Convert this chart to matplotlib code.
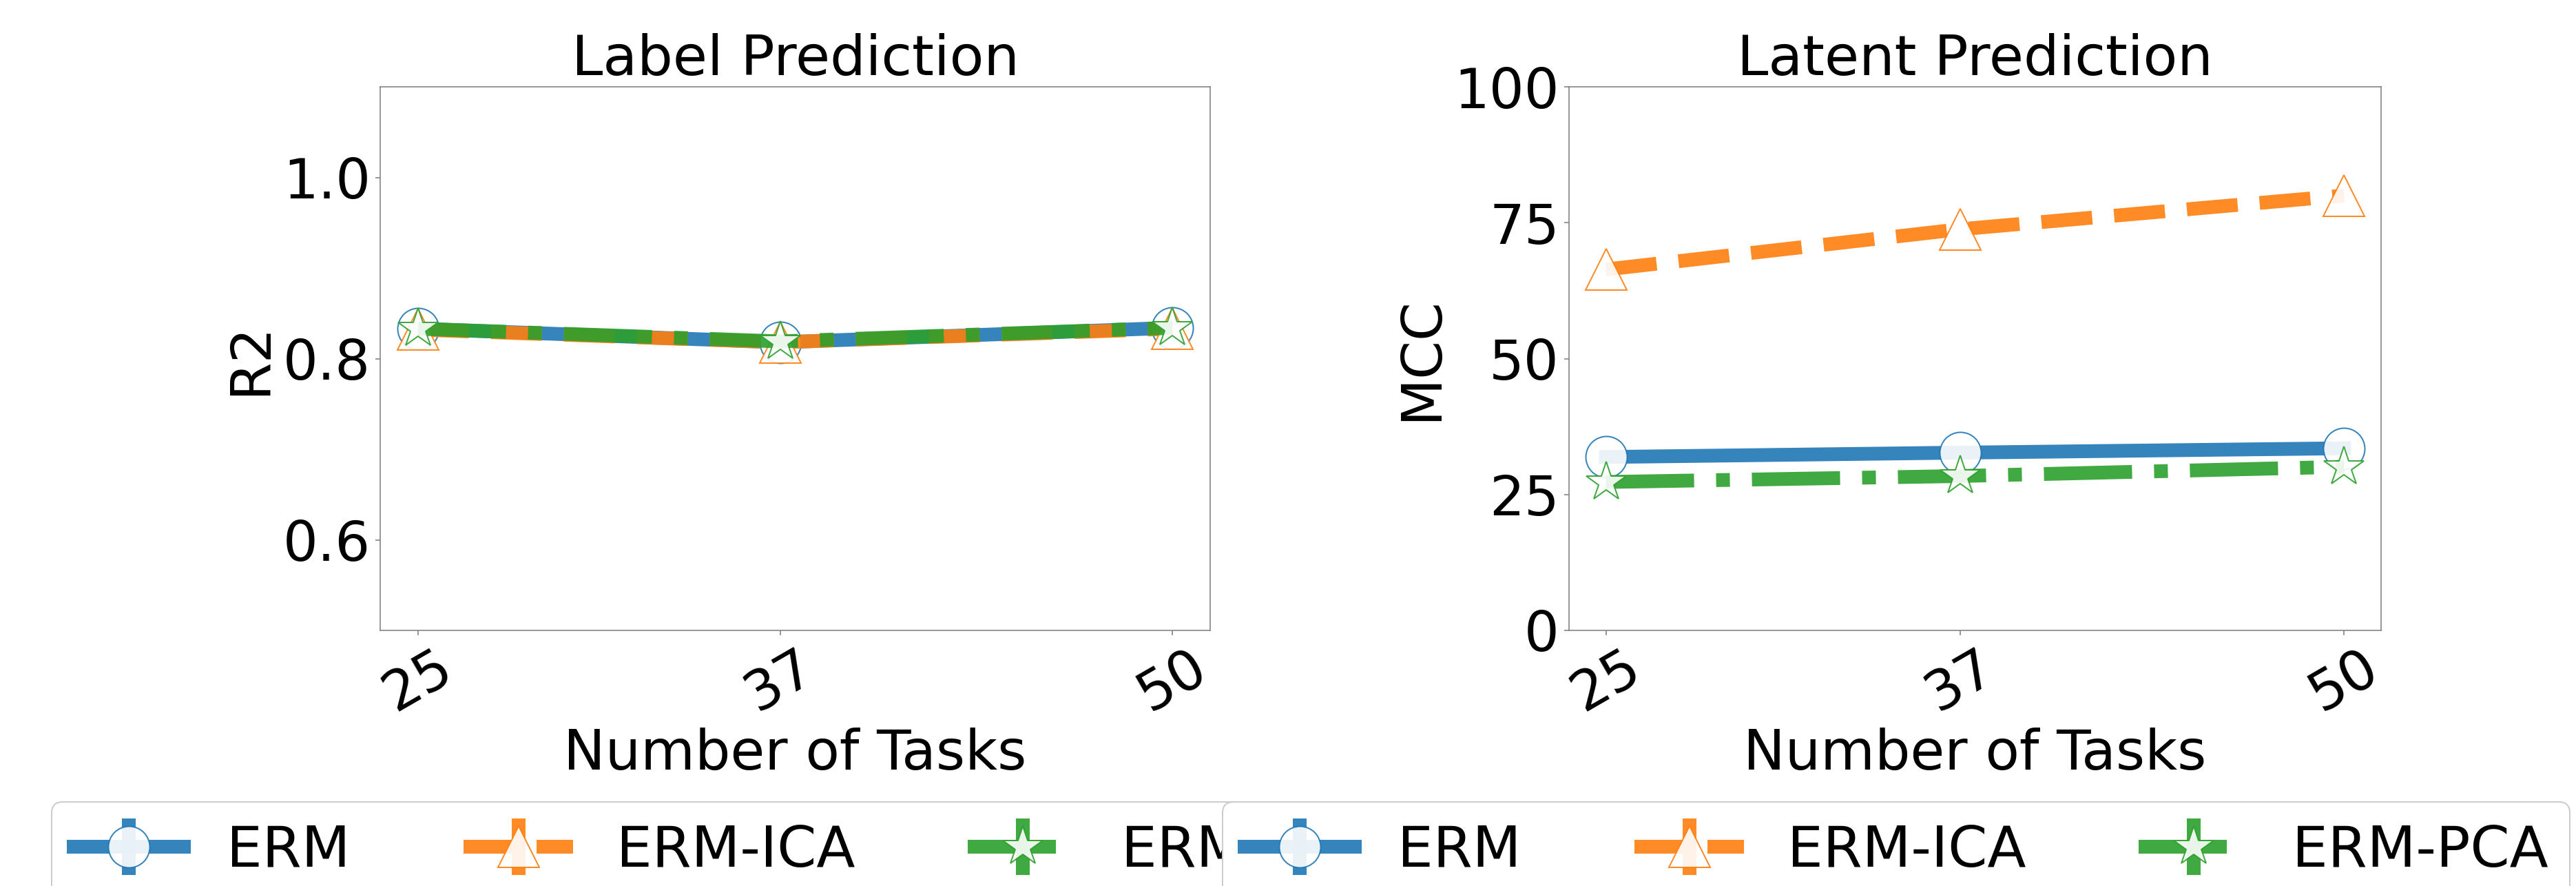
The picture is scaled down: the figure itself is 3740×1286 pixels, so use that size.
import matplotlib
matplotlib.use("Agg")
import matplotlib.pyplot as plt

# ---- data ----
tasks = [25, 37, 50]
tick_labels = ["25", "37", "50"]
methods = ["ERM", "ERM-ICA", "ERM-PCA"]

label_r2_erm = [0.833, 0.818, 0.834]
label_r2_ica = [0.832, 0.818, 0.833]
label_r2_pca = [0.833, 0.819, 0.834]

latent_mcc_erm = [31.9, 32.7, 33.5]
latent_mcc_ica = [66.4, 73.8, 80.0]
latent_mcc_pca = [27.3, 28.4, 30.1]

err_zero = [0.0, 0.0, 0.0]

colors = ["#1f77b4", "#ff7f0e", "#2ca02c"]
markers = ["o", "^", "*"]
linestyles = ["-", "--", "-."]

W, H, DPI = 3740, 1286, 144
fig = plt.figure(figsize=(W / DPI, H / DPI), dpi=DPI)
plt.rcParams['font.size'] = 40

ax1 = fig.add_axes([552 / W, 1 - 915 / H, 1205 / W, 789 / H])
ax2 = fig.add_axes([2278 / W, 1 - 915 / H, 1179 / W, 789 / H])

panels = [
    (ax1, [label_r2_erm, label_r2_ica, label_r2_pca], "Label Prediction", "R2", (0.5, 1.1), [0.6, 0.8, 1.0], 75),
    (ax2, [latent_mcc_erm, latent_mcc_ica, latent_mcc_pca], "Latent Prediction", "MCC", (0, 100), [0, 25, 50, 75, 100], 1775),
]

for ax, series, title, ylabel, ylim, yticks, legx in panels:
    for vals, name, c, m, ls in zip(series, methods, colors, markers, linestyles):
        ax.errorbar(tasks, vals, yerr=err_zero, color=c, alpha=0.9, linewidth=10,
                    linestyle=ls, marker=m, markersize=30, markerfacecolor="white",
                    markeredgecolor=c, markeredgewidth=1, label=name)
    ax.set_title(title, fontsize=40.7, pad=7)
    ax.set_ylabel(ylabel, fontsize=40)
    ax.set_xlabel("Number of Tasks", fontsize=40.5)
    ax.set_ylim(*ylim)
    ax.set_yticks(yticks)
    ax.set_xticks(tasks)
    ax.set_xticklabels(tick_labels, rotation=30)
    ax.tick_params(labelsize=40, color="#808080")
    for sp in ax.spines.values():
        sp.set_color("#808080")
    leg = ax.legend(loc="upper left", bbox_to_anchor=(legx / W, 1 - 1164 / H),
                    bbox_transform=fig.transFigure, ncol=3, fontsize=41,
                    handlelength=1.95, columnspacing=2.0, handletextpad=0.76,
                    borderpad=0.39, borderaxespad=0, framealpha=1)

fig.savefig("out.png", dpi=DPI, facecolor="white")
